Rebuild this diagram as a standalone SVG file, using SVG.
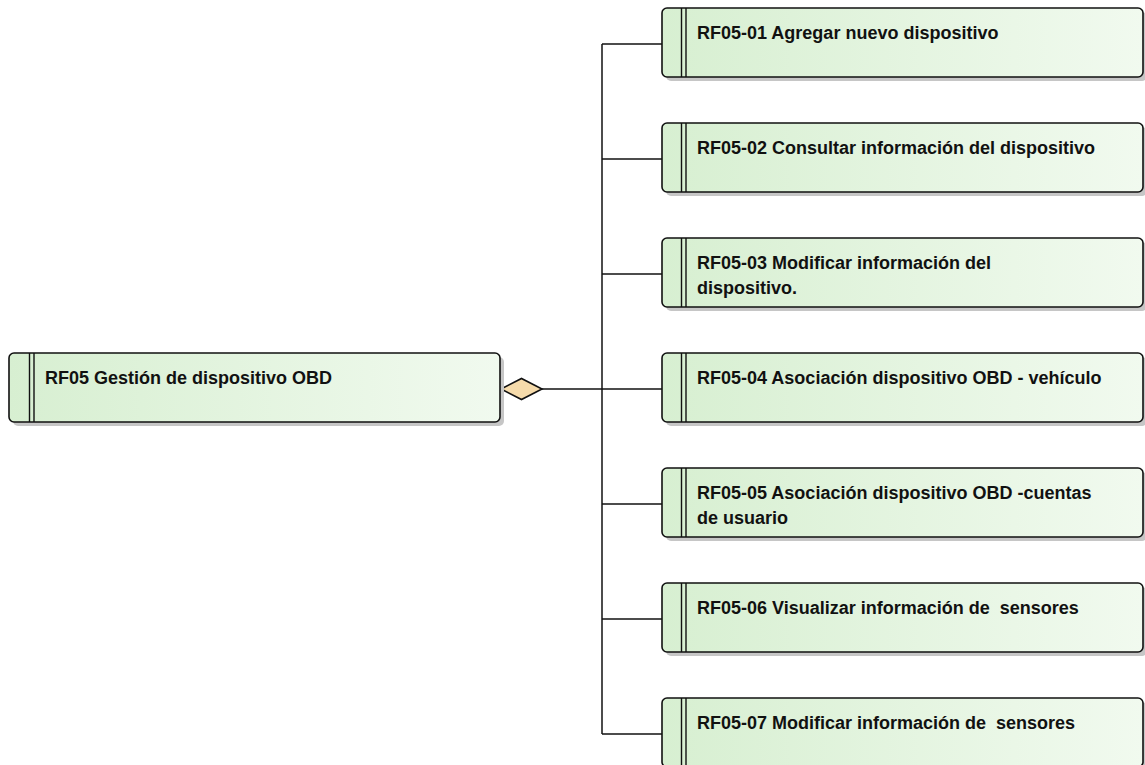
<svg xmlns="http://www.w3.org/2000/svg" width="1145" height="765" viewBox="0 0 1145 765">
  <defs>
    <linearGradient id="reqFill" x1="0" y1="0" x2="1" y2="0">
      <stop offset="0" stop-color="#d7efd1"/>
      <stop offset="1" stop-color="#f1faef"/>
    </linearGradient>
    <style>
      .shadow { fill: #c6c6c6; }
      .box { fill: url(#reqFill); stroke: #111; stroke-width: 1.6; }
      .bar { stroke: #111; stroke-width: 1.4; fill: none; }
      .label { font-family: "Liberation Sans", Arial, sans-serif; font-weight: bold; font-size: 18px; fill: #111; }
      .wire { stroke: #111; stroke-width: 1.5; fill: none; }
      .agg { fill: #f6dbab; stroke: #111; stroke-width: 1.6; }
    </style>
  </defs>
  <rect width="1145" height="765" fill="#ffffff"/>

  <!-- aggregation connectors -->
  <g id="connectors">
    <polyline class="wire" points="542,389 662,389"/>
    <polyline class="wire" points="602,44 602,734"/>
    <line class="wire" x1="602" y1="44" x2="662" y2="44"/>
    <line class="wire" x1="602" y1="159" x2="662" y2="159"/>
    <line class="wire" x1="602" y1="274" x2="662" y2="274"/>
    <line class="wire" x1="602" y1="504" x2="662" y2="504"/>
    <line class="wire" x1="602" y1="619" x2="662" y2="619"/>
    <line class="wire" x1="602" y1="734" x2="662" y2="734"/>
    <polygon class="agg" points="501,389 521.5,378.5 542,389 521.5,399.5"/>
  </g>

  <!-- parent requirement -->
  <g id="rf05">
    <rect class="shadow" x="13" y="357" width="491" height="69" rx="5"/>
    <rect class="box" x="9" y="353" width="491" height="69" rx="5"/>
    <line class="bar" x1="29.5" y1="353" x2="29.5" y2="422"/>
    <line class="bar" x1="34" y1="353" x2="34" y2="422"/>
    <text class="label" x="45" y="384">RF05 Gestión de dispositivo OBD</text>
  </g>

  <!-- child requirements -->
  <g id="rf05-01">
    <rect class="shadow" x="666" y="12" width="481" height="69" rx="5"/>
    <rect class="box" x="662" y="8" width="481" height="69" rx="5"/>
    <line class="bar" x1="681.5" y1="8" x2="681.5" y2="77"/>
    <line class="bar" x1="686" y1="8" x2="686" y2="77"/>
    <text class="label" x="697" y="39">RF05-01 Agregar nuevo dispositivo</text>
  </g>

  <g id="rf05-02">
    <rect class="shadow" x="666" y="127" width="481" height="69" rx="5"/>
    <rect class="box" x="662" y="123" width="481" height="69" rx="5"/>
    <line class="bar" x1="681.5" y1="123" x2="681.5" y2="192"/>
    <line class="bar" x1="686" y1="123" x2="686" y2="192"/>
    <text class="label" x="697" y="154">RF05-02 Consultar información del dispositivo</text>
  </g>

  <g id="rf05-03">
    <rect class="shadow" x="666" y="242" width="481" height="69" rx="5"/>
    <rect class="box" x="662" y="238" width="481" height="69" rx="5"/>
    <line class="bar" x1="681.5" y1="238" x2="681.5" y2="307"/>
    <line class="bar" x1="686" y1="238" x2="686" y2="307"/>
    <text class="label" x="697" y="269">RF05-03 Modificar información del</text>
    <text class="label" x="697" y="294">dispositivo.</text>
  </g>

  <g id="rf05-04">
    <rect class="shadow" x="666" y="357" width="481" height="69" rx="5"/>
    <rect class="box" x="662" y="353" width="481" height="69" rx="5"/>
    <line class="bar" x1="681.5" y1="353" x2="681.5" y2="422"/>
    <line class="bar" x1="686" y1="353" x2="686" y2="422"/>
    <text class="label" x="697" y="384">RF05-04 Asociación dispositivo OBD - vehículo</text>
  </g>

  <g id="rf05-05">
    <rect class="shadow" x="666" y="472" width="481" height="69" rx="5"/>
    <rect class="box" x="662" y="468" width="481" height="69" rx="5"/>
    <line class="bar" x1="681.5" y1="468" x2="681.5" y2="537"/>
    <line class="bar" x1="686" y1="468" x2="686" y2="537"/>
    <text class="label" x="697" y="499">RF05-05 Asociación dispositivo OBD -cuentas</text>
    <text class="label" x="697" y="524">de usuario</text>
  </g>

  <g id="rf05-06">
    <rect class="shadow" x="666" y="587" width="481" height="69" rx="5"/>
    <rect class="box" x="662" y="583" width="481" height="69" rx="5"/>
    <line class="bar" x1="681.5" y1="583" x2="681.5" y2="652"/>
    <line class="bar" x1="686" y1="583" x2="686" y2="652"/>
    <text class="label" x="697" y="614" xml:space="preserve">RF05-06 Visualizar información de  sensores</text>
  </g>

  <g id="rf05-07">
    <rect class="shadow" x="666" y="702" width="481" height="69" rx="5"/>
    <rect class="box" x="662" y="698" width="481" height="69" rx="5"/>
    <line class="bar" x1="681.5" y1="698" x2="681.5" y2="767"/>
    <line class="bar" x1="686" y1="698" x2="686" y2="767"/>
    <text class="label" x="697" y="729" xml:space="preserve">RF05-07 Modificar información de  sensores</text>
  </g>
</svg>
